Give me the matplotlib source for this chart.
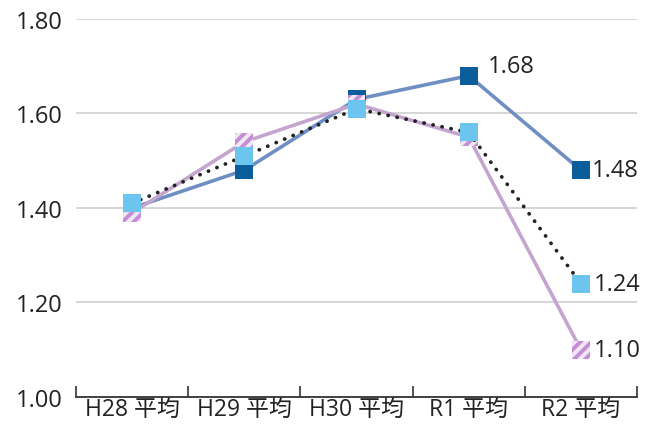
import matplotlib
matplotlib.use("Agg")
import matplotlib.pyplot as plt
import numpy as np

plt.rcParams['font.family'] = ['Open Sans', 'Noto Sans CJK JP', 'DejaVu Sans']
plt.rcParams['hatch.linewidth'] = 2.8

categories = ["H28 平均", "H29 平均", "H30 平均", "R1 平均", "R2 平均"]
series_dark = [1.40, 1.48, 1.63, 1.68, 1.48]
series_light = [1.41, 1.51, 1.61, 1.56, 1.24]
series_purple = [1.39, 1.54, 1.62, 1.55, 1.10]
yticks = [1.00, 1.20, 1.40, 1.60, 1.80]

x = np.arange(len(categories))

fig = plt.figure(figsize=(6.45, 4.31), dpi=100)
ax = fig.add_axes([0.118, 0.0766, 0.8696, 0.877])

ax.set_xlim(-0.5, len(categories) - 0.5)
ax.set_ylim(1.0, 1.8)

for v in yticks[1:]:
    ax.axhline(v, color='#cccccc', lw=1.1, zorder=0)

msize = 165

# dark blue series
ax.plot(x, series_dark, color='#6f8fc3', lw=2.6, solid_capstyle='round', zorder=2)
ax.scatter(x, series_dark, marker='s', s=msize, color='#0b5d9c', linewidths=0, zorder=3)

# purple hatched series
ax.plot(x, series_purple, color='#c4a5cf', lw=2.6, solid_capstyle='round', zorder=4)
ax.scatter(x, series_purple, marker='s', s=msize, facecolor='#f1e6f5',
           edgecolor='#c38fd2', linewidths=0, hatch='///', zorder=5)

# light blue series with dotted line
ax.plot(x, series_light, color='#222222', lw=2.7, linestyle=(0, (0.05, 2.4)),
        dash_capstyle='round', zorder=6)
ax.scatter(x, series_light, marker='s', s=msize, color='#6cc5ef', linewidths=0, zorder=7)

# value labels
label_kw = dict(textcoords='offset points', va='center', ha='left',
                fontsize=17, color='#222222')
ax.annotate(f"{series_dark[3]:.2f}", (x[3], series_dark[3]), xytext=(14, 7), **label_kw)
ax.annotate(f"{series_dark[4]:.2f}", (x[4], series_dark[4]), xytext=(8, 0), **label_kw)
ax.annotate(f"{series_light[4]:.2f}", (x[4], series_light[4]), xytext=(9, 0), **label_kw)
ax.annotate(f"{series_purple[4]:.2f}", (x[4], series_purple[4]), xytext=(9, 0), **label_kw)

# axes styling
for s in ['top', 'right', 'left']:
    ax.spines[s].set_visible(False)
ax.spines['bottom'].set_color('#333333')
ax.spines['bottom'].set_linewidth(1.3)

ax.set_yticks(yticks)
ax.set_yticklabels([f"{v:.2f}" for v in yticks], fontsize=17, color='#222222')
ax.tick_params(axis='y', length=0, pad=10)

ax.set_xticks(np.arange(-0.5, len(categories), 1.0))
ax.set_xticklabels([])
ax.tick_params(axis='x', which='major', direction='in', length=8, width=1.2, color='#333333')
ax.set_xticks(x, minor=True)
ax.set_xticklabels(categories, minor=True, fontsize=16.5, color='#222222')
ax.tick_params(axis='x', which='minor', length=0, pad=0)

fig.savefig("out.png", dpi=100)
